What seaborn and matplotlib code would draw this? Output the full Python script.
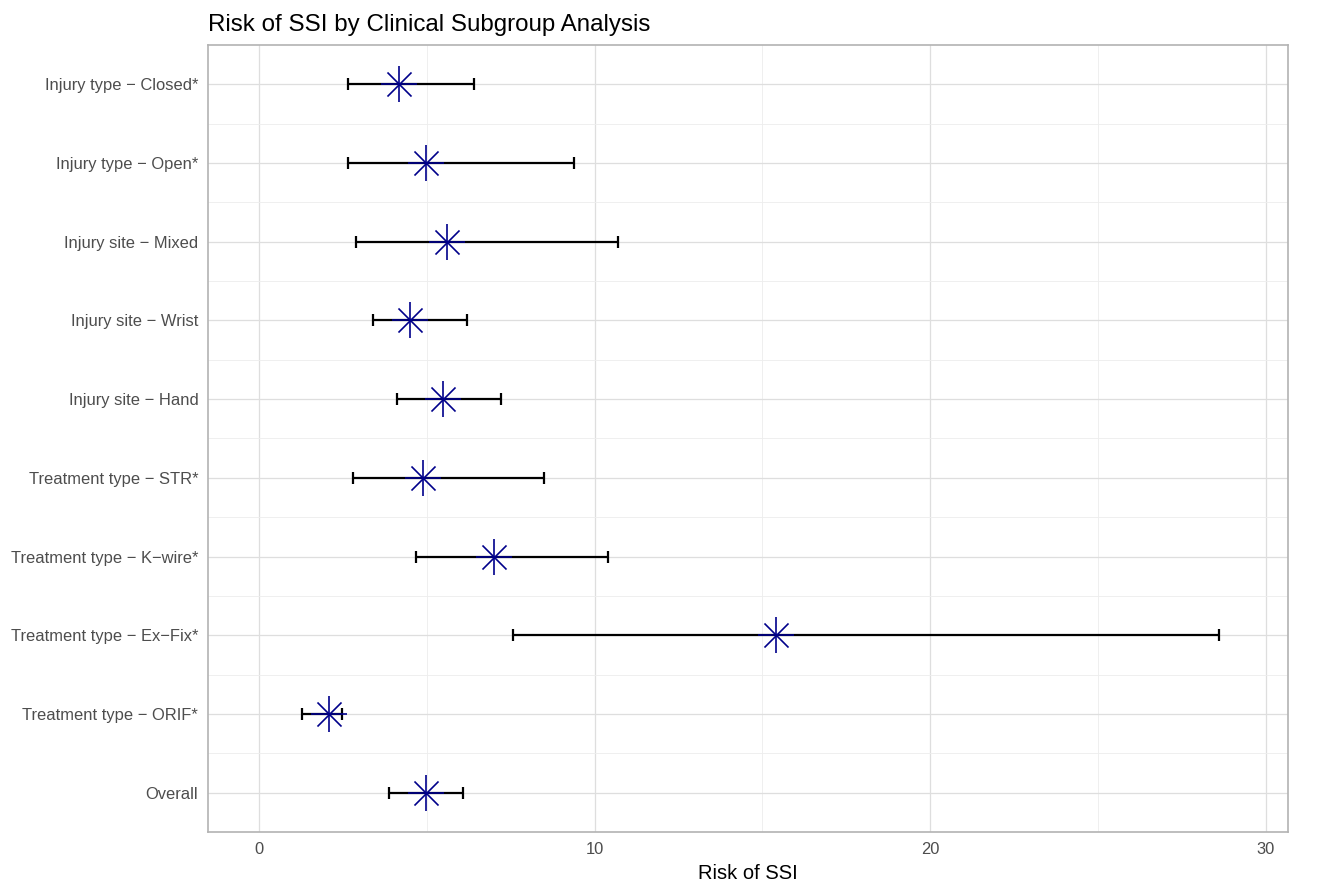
import matplotlib
matplotlib.use("Agg")
import matplotlib.pyplot as plt
import seaborn as sns
import pandas as pd
import numpy as np
from matplotlib.ticker import MultipleLocator

subgroups = ["Injury type \u2212 Closed*", "Injury type \u2212 Open*", "Injury site \u2212 Mixed",
             "Injury site \u2212 Wrist", "Injury site \u2212 Hand", "Treatment type \u2212 STR*",
             "Treatment type \u2212 K\u2212wire*", "Treatment type \u2212 Ex\u2212Fix*",
             "Treatment type \u2212 ORIF*", "Overall"]
risk = [4.17, 4.98, 5.60, 4.50, 5.48, 4.89, 7.00, 15.41, 2.09, 4.98]
lower = [2.65, 2.65, 2.89, 3.40, 4.11, 2.80, 4.68, 7.58, 1.28, 3.87]
upper = [6.41, 9.39, 10.70, 6.20, 7.21, 8.49, 10.40, 28.62, 2.47, 6.08]

df = pd.DataFrame({"subgroup": subgroups, "risk": risk, "lower": lower, "upper": upper})

sns.set_style("whitegrid")
plt.rcParams['font.family'] = ['Liberation Sans', 'DejaVu Sans']

fig = plt.figure(figsize=(13.24, 8.84), dpi=100)
ax = fig.add_axes([208/1324, 1 - 832/884, (1288-208)/1324, (832-45)/884])

ypos = np.arange(len(df))
ax.errorbar(df["risk"], ypos, xerr=[df["risk"] - df["lower"], df["upper"] - df["risk"]],
            fmt="none", ecolor="black", elinewidth=1.6, capsize=4, capthick=1.6, zorder=3)
sns.scatterplot(data=df, x="risk", y=ypos, marker="+", s=676, color="#00008B",
                linewidth=1.2, ax=ax, zorder=4, legend=False)
sns.scatterplot(data=df, x="risk", y=ypos, marker="x", s=300, color="#00008B",
                linewidth=1.2, ax=ax, zorder=4, legend=False)

ax.set_xlim(-1.52, 30.67)
ax.set_ylim(len(df) - 0.5, -0.5)
ax.set_yticks(ypos)
ax.set_yticklabels(subgroups)
ax.xaxis.set_major_locator(MultipleLocator(10))
ax.xaxis.set_minor_locator(MultipleLocator(5))
ax.set_yticks(np.arange(len(df) - 1) + 0.5, minor=True)

ax.grid(which="major", color="#DEDEDE", linewidth=0.9)
ax.grid(which="minor", color="#EDEDED", linewidth=0.6)
ax.set_axisbelow(True)
for s in ax.spines.values():
    s.set_color("#B3B3B3")
    s.set_linewidth(1.2)
ax.tick_params(axis="both", which="major", length=4, color="#B3B3B3", labelcolor="#4D4D4D",
               labelsize=11.9, pad=3)
ax.tick_params(axis="both", which="minor", length=0)

ax.set_xlabel("Risk of SSI", fontsize=14.5, color="black", labelpad=5)
ax.set_ylabel("")
fig.text(208/1324, 1 - 25/884, "Risk of SSI by Clinical Subgroup Analysis", fontsize=17.4,
         ha="left", va="center", color="black")

fig.savefig("out.png", dpi=100)
